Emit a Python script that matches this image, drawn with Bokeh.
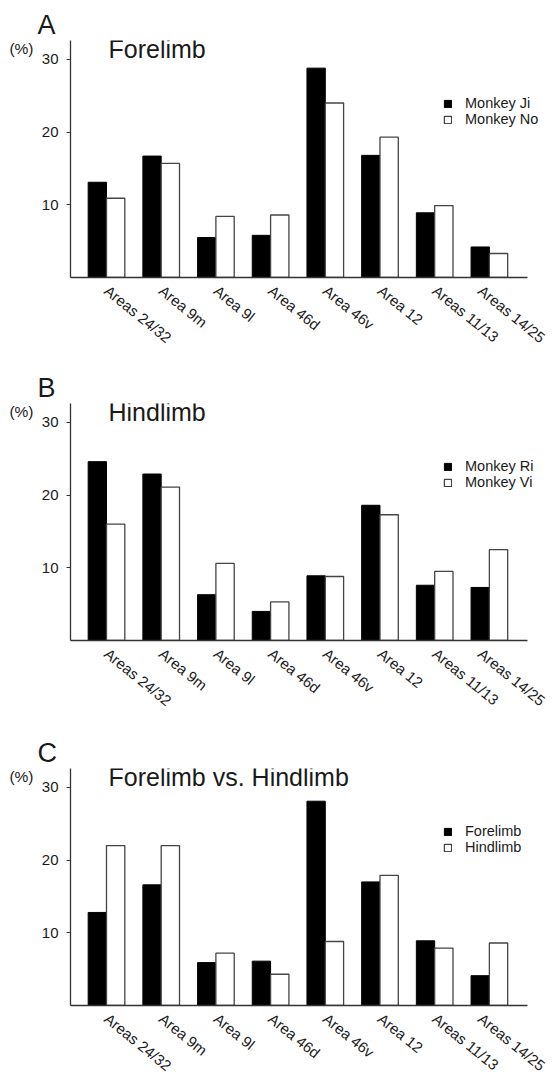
from bokeh.plotting import figure
from bokeh.layouts import column
from bokeh.models import (ColumnDataSource, FixedTicker, Legend, LegendItem,
                          Label, LinearAxis, Title)
from bokeh.transform import dodge
from bokeh.embed import file_html
from bokeh.resources import INLINE

# ---- data ----
areas = ["Areas 24/32", "Area 9m", "Area 9l", "Area 46d",
         "Area 46v", "Area 12", "Areas 11/13", "Areas 14/25"]
monkey_ji = [13.1, 16.7, 5.5, 5.8, 28.8, 16.8, 8.9, 4.2]
monkey_no = [10.9, 15.7, 8.4, 8.6, 24.0, 19.3, 9.9, 3.3]
monkey_ri = [24.6, 22.9, 6.3, 4.0, 8.9, 18.6, 7.6, 7.3]
monkey_vi = [16.0, 21.1, 10.6, 5.3, 8.8, 17.3, 9.5, 12.5]
forelimb = [12.8, 16.6, 5.9, 6.1, 28.1, 17.0, 8.9, 4.1]
hindlimb = [22.0, 22.0, 7.2, 4.3, 8.8, 17.9, 7.9, 8.6]
y_ticks = [10, 20, 30]
unit_label = "(%)"

FONT = "Liberation Sans"
AXIS_W = 457          # visible length of the x axis (px)
FRAME_W = 478         # frame a bit wider so the legend text is not clipped
FRAME_H = 237
X0, X_AXIS_END = -0.658, 7.697
PPU_X = AXIS_W / (X_AXIS_END - X0)
X1 = X0 + FRAME_W / PPU_X
Y1 = 32.6
PPU_Y = FRAME_H / Y1
BAR_W = 0.335
INK = "#1a1a1a"
AX = "#333333"


def px_x(dx):
    return X0 + dx / PPU_X


def px_y(dy):
    return dy / PPU_Y


def panel(letter, title, name1, name2, s1, s2, border_bottom):
    p = figure(frame_width=FRAME_W, frame_height=FRAME_H,
               x_range=(X0, X1), y_range=(0, Y1),
               output_backend="svg", toolbar_location=None,
               min_border_left=70, min_border_right=0,
               min_border_top=40, min_border_bottom=border_bottom)
    p.outline_line_color = None
    p.xgrid.visible = False
    p.ygrid.visible = False
    p.background_fill_color = "white"
    p.border_fill_color = "white"

    src = ColumnDataSource(dict(x=list(range(len(areas))), a=s1, b=s2))
    r1 = p.vbar(x=dodge("x", -BAR_W / 2, range=p.x_range), top="a", width=BAR_W,
                source=src, fill_color="black", line_color="black", line_width=1)
    r2 = p.vbar(x=dodge("x", BAR_W / 2, range=p.x_range), top="b", width=BAR_W,
                source=src, fill_color="white", line_color="#444444", line_width=1.3)

    # x axis
    xa = p.xaxis[0]
    xa.bounds = (X0, X_AXIS_END)
    xa.ticker = FixedTicker(ticks=list(range(len(areas))))
    xa.major_label_overrides = {i: n for i, n in enumerate(areas)}
    xa.major_label_orientation = -0.68
    xa.major_tick_line_color = None
    xa.minor_tick_line_color = None
    xa.major_label_standoff = 5
    xa.major_label_text_font = FONT
    xa.major_label_text_font_size = "15px"
    xa.major_label_text_color = INK
    xa.axis_line_color = AX
    xa.axis_line_width = 1.3

    # y axis
    ya = p.yaxis[0]
    ya.ticker = FixedTicker(ticks=y_ticks)
    ya.minor_tick_line_color = None
    ya.major_tick_out = 4
    ya.major_tick_in = 0
    ya.major_tick_line_color = AX
    ya.major_label_standoff = 8
    ya.major_label_text_font = FONT
    ya.major_label_text_font_size = "15px"
    ya.major_label_text_color = INK
    ya.axis_line_color = AX
    ya.axis_line_width = 1.3

    # unit "(%)" as an extra, line-less left axis with a single label
    unit_y = px_y(229)
    ua = LinearAxis(ticker=FixedTicker(ticks=[unit_y]),
                    major_label_overrides={unit_y: unit_label},
                    axis_line_color=None, major_tick_line_color=None,
                    minor_tick_line_color=None, major_label_standoff=5,
                    major_tick_out=0, major_tick_in=0,
                    major_label_text_font=FONT, major_label_text_font_size="15.5px",
                    major_label_text_color=INK)
    p.add_layout(ua, "left")

    # panel letter
    t = Title(text=letter, align="left", offset=-33, standoff=1,
              text_font=FONT, text_font_size="27px", text_font_style="normal",
              text_color=INK)
    p.add_layout(t, "above")

    legend = Legend(items=[LegendItem(label=name1, renderers=[r1]),
                           LegendItem(label=name2, renderers=[r2])],
                    location=(373, 150), padding=0, margin=0, spacing=0,
                    glyph_width=9, glyph_height=9, label_standoff=13,
                    label_height=15, label_text_font=FONT,
                    label_text_font_size="14.5px", label_text_color=INK,
                    border_line_color=None, background_fill_alpha=0)
    p.add_layout(legend)

    p.add_layout(Label(x=px_x(38), y=px_y(229), text=title, text_font=FONT,
                       text_font_size="25px", text_color=INK,
                       text_baseline="alphabetic"))
    return p


pa = panel("A", "Forelimb", "Monkey Ji", "Monkey No", monkey_ji, monkey_no, 86)
pb = panel("B", "Hindlimb", "Monkey Ri", "Monkey Vi", monkey_ri, monkey_vi, 88)
pc = panel("C", "Forelimb vs. Hindlimb", "Forelimb", "Hindlimb", forelimb, hindlimb, 68)

layout = column(pa, pb, pc, spacing=0)
open("out.html", "w").write(file_html(layout, INLINE))
